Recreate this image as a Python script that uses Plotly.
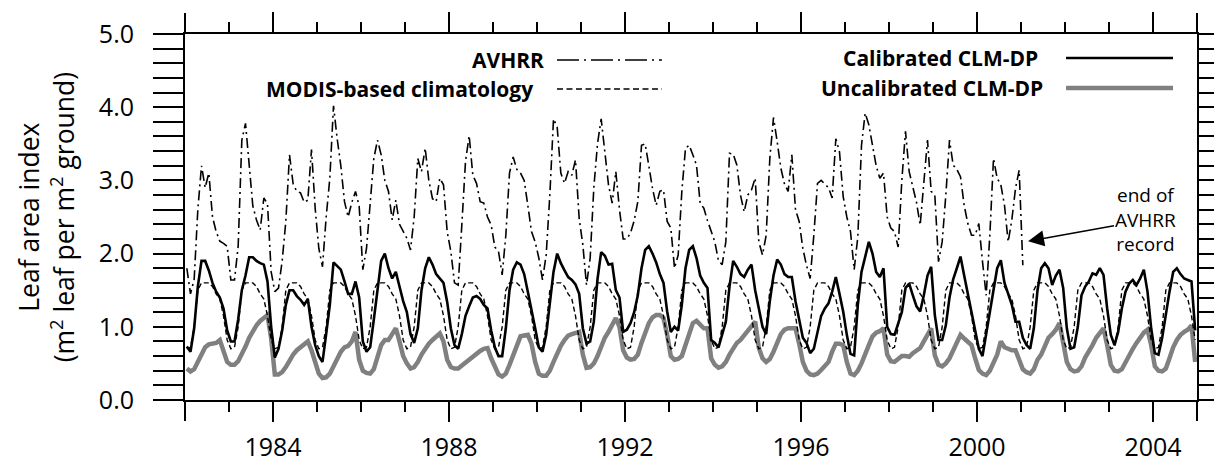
import plotly.graph_objects as go

# ---------------- data (monthly, Jan 1982 onward) ----------------
start_year = 1982
n_years = 23

avhrr = [
    1.80, 1.45, 1.65, 2.60, 3.20, 2.90, 3.10, 2.50, 2.30, 2.17, 2.14, 2.10,
    1.64, 1.64, 2.10, 3.55, 3.78, 3.20, 2.65, 2.46, 2.32, 2.76, 2.68, 1.75,
    1.48, 1.53, 1.90, 2.44, 3.35, 2.95, 2.85, 2.83, 2.70, 2.73, 3.42, 2.62,
    2.07, 1.82, 2.50, 3.03, 4.02, 3.57, 3.20, 2.71, 2.50, 2.70, 2.85, 2.65,
    1.78, 2.07, 2.71, 3.30, 3.55, 3.35, 3.00, 2.85, 2.46, 2.73, 2.40, 2.30,
    2.21, 2.05, 2.50, 3.30, 3.12, 3.44, 3.00, 2.75, 2.71, 3.03, 2.94, 2.30,
    2.03, 1.60, 1.57, 2.39, 3.26, 3.61, 3.07, 2.96, 2.71, 2.69, 2.50, 2.39,
    2.09, 2.03, 1.71, 2.25, 3.10, 3.32, 3.15, 3.10, 3.00, 2.66, 2.30, 2.16,
    1.94, 1.64, 1.98, 2.80, 3.84, 3.73, 3.10, 2.96, 3.12, 3.07, 3.28, 2.48,
    2.12, 1.57, 1.94, 2.90, 3.50, 3.84, 3.35, 2.94, 2.69, 3.12, 2.60, 2.20,
    2.20, 2.28, 2.45, 2.71, 3.48, 3.50, 3.20, 2.89, 2.66, 2.85, 2.87, 2.44,
    2.35, 1.80, 1.98, 2.85, 3.44, 3.48, 3.35, 3.21, 2.69, 2.62, 2.45, 2.30,
    2.16, 1.90, 1.85, 2.16, 3.37, 3.36, 3.21, 2.80, 2.57, 2.80, 2.87, 3.03,
    2.16, 1.98, 2.25, 3.30, 3.86, 3.53, 3.17, 2.95, 2.85, 3.35, 2.60, 2.44,
    2.07, 1.84, 1.66, 2.25, 2.96, 3.00, 2.95, 2.90, 2.76, 3.57, 3.39, 2.78,
    2.50, 2.30, 1.78, 2.23, 3.48, 3.92, 3.76, 3.45, 3.20, 3.03, 3.10, 2.50,
    2.35, 2.30, 2.09, 3.00, 3.67, 3.12, 2.90, 2.70, 2.39, 3.00, 3.55, 2.85,
    2.80, 1.89, 2.16, 2.80, 3.55, 3.21, 3.15, 3.05, 2.66, 2.41, 2.25, 2.25,
    2.41, 1.89, 1.43, 2.25, 3.30, 3.03, 2.94, 2.66, 2.16, 2.46, 2.89, 3.14,
    1.84,
]

modis_monthly_climatology = [0.70, 0.72, 1.00, 1.50, 1.60, 1.60,
                             1.60, 1.55, 1.45, 1.38, 1.15, 0.82]

calibrated = [
    0.73, 0.66, 0.98, 1.55, 1.90, 1.90, 1.77, 1.60, 1.48, 1.40, 1.25, 0.95,
    0.80, 0.80, 1.10, 1.50, 1.70, 1.95, 1.95, 1.90, 1.87, 1.85, 1.62, 1.00,
    0.58, 0.70, 0.95, 1.30, 1.50, 1.50, 1.42, 1.37, 1.30, 1.38, 1.00, 0.75,
    0.60, 0.52, 0.90, 1.30, 1.88, 1.83, 1.78, 1.62, 1.45, 1.45, 1.62, 1.40,
    0.80, 0.66, 0.72, 1.10, 1.50, 1.90, 2.00, 1.80, 1.66, 1.75, 1.55, 1.35,
    1.20, 0.90, 0.78, 0.98, 1.50, 1.80, 1.95, 1.85, 1.72, 1.66, 1.60, 1.34,
    0.98, 0.75, 0.70, 0.90, 1.15, 1.28, 1.40, 1.42, 1.38, 1.30, 1.25, 0.95,
    0.72, 0.60, 0.60, 0.98, 1.50, 1.78, 1.88, 1.85, 1.72, 1.48, 1.25, 0.98,
    0.72, 0.66, 0.89, 1.35, 1.75, 2.00, 1.87, 1.77, 1.68, 1.64, 1.58, 1.45,
    0.98, 0.77, 0.80, 1.07, 1.65, 2.02, 1.97, 1.85, 1.86, 1.50, 1.40, 0.93,
    0.96, 1.05, 1.20, 1.43, 1.80, 2.05, 2.10, 2.00, 1.88, 1.72, 1.60, 1.21,
    0.93, 1.00, 0.95, 1.30, 1.80, 2.05, 2.10, 1.94, 1.70, 1.60, 1.53, 0.82,
    0.78, 0.72, 0.90, 1.07, 1.55, 1.90, 1.82, 1.72, 1.68, 1.78, 1.85, 1.50,
    1.25, 1.00, 0.90, 1.35, 1.70, 1.92, 1.85, 1.72, 1.68, 1.68, 1.35, 1.10,
    0.85, 0.78, 0.64, 0.70, 0.95, 1.15, 1.25, 1.32, 1.48, 1.68, 1.45, 1.21,
    0.89, 0.63, 0.61, 1.30, 1.75, 1.94, 2.16, 2.00, 1.75, 1.68, 1.80, 1.00,
    0.90, 0.89, 1.05, 1.20, 1.53, 1.59, 1.43, 1.28, 1.21, 1.43, 1.70, 1.82,
    1.16, 0.82, 0.82, 1.02, 1.40, 1.65, 1.80, 1.96, 1.70, 1.45, 1.20, 0.98,
    0.70, 0.60, 0.90, 1.20, 1.53, 1.80, 1.91, 1.60, 1.45, 1.30, 1.07, 1.07,
    0.85, 0.75, 0.70, 0.98, 1.50, 1.80, 1.87, 1.80, 1.57, 1.70, 1.78, 1.53,
    0.98, 0.70, 0.72, 1.00, 1.43, 1.55, 1.62, 1.73, 1.71, 1.80, 1.71, 1.25,
    0.89, 0.75, 0.93, 1.25, 1.48, 1.59, 1.64, 1.57, 1.66, 1.78, 1.48, 0.98,
    0.64, 0.62, 0.85, 1.20, 1.48, 1.75, 1.80, 1.72, 1.66, 1.64, 1.62, 0.95,
]

uncalibrated = [
    0.43, 0.39, 0.42, 0.52, 0.65, 0.72, 0.76, 0.77, 0.78, 0.82, 0.66, 0.52,
    0.48, 0.48, 0.53, 0.62, 0.73, 0.85, 0.95, 1.02, 1.08, 1.12, 1.16, 0.84,
    0.35, 0.35, 0.38, 0.45, 0.55, 0.62, 0.68, 0.72, 0.76, 0.80, 0.68, 0.50,
    0.36, 0.30, 0.31, 0.36, 0.46, 0.56, 0.66, 0.72, 0.74, 0.80, 0.93, 0.55,
    0.40, 0.37, 0.36, 0.42, 0.60, 0.75, 0.82, 0.82, 0.90, 0.98, 0.80, 0.60,
    0.50, 0.43, 0.45, 0.52, 0.62, 0.71, 0.77, 0.82, 0.87, 0.91, 0.80, 0.55,
    0.45, 0.43, 0.43, 0.47, 0.52, 0.56, 0.60, 0.64, 0.67, 0.70, 0.71, 0.57,
    0.45, 0.35, 0.32, 0.36, 0.48, 0.60, 0.75, 0.87, 0.88, 0.89, 0.77, 0.52,
    0.36, 0.33, 0.33, 0.40, 0.52, 0.65, 0.74, 0.82, 0.88, 0.90, 0.91, 0.93,
    0.62, 0.44, 0.45, 0.50, 0.60, 0.72, 0.85, 0.93, 1.02, 1.12, 1.00, 0.68,
    0.58, 0.55, 0.56, 0.62, 0.78, 0.92, 1.05, 1.13, 1.16, 1.16, 1.12, 0.89,
    0.60, 0.55, 0.56, 0.60, 0.75, 0.92, 1.05, 1.08, 1.03, 0.98, 0.98, 0.57,
    0.48, 0.44, 0.46, 0.52, 0.62, 0.71, 0.78, 0.82, 0.88, 0.95, 1.02, 1.07,
    0.71, 0.57, 0.52, 0.56, 0.66, 0.80, 0.90, 0.96, 0.98, 0.98, 0.98, 0.77,
    0.52, 0.40, 0.35, 0.34, 0.36, 0.41, 0.47, 0.52, 0.66, 0.77, 0.77, 0.75,
    0.52, 0.36, 0.34, 0.40, 0.50, 0.61, 0.75, 0.87, 0.92, 0.94, 0.98, 0.62,
    0.53, 0.52, 0.56, 0.60, 0.60, 0.59, 0.64, 0.68, 0.71, 0.80, 0.90, 0.98,
    0.61, 0.48, 0.46, 0.50, 0.57, 0.68, 0.80, 0.89, 0.84, 0.80, 0.75, 0.57,
    0.41, 0.36, 0.34, 0.40, 0.52, 0.62, 0.80, 0.72, 0.70, 0.68, 0.68, 0.55,
    0.42, 0.38, 0.36, 0.42, 0.55, 0.62, 0.75, 0.85, 0.90, 0.96, 1.05, 0.80,
    0.52, 0.42, 0.39, 0.40, 0.46, 0.58, 0.66, 0.75, 0.85, 0.92, 0.98, 0.75,
    0.48, 0.40, 0.39, 0.42, 0.52, 0.63, 0.70, 0.78, 0.86, 0.92, 0.96, 0.75,
    0.46, 0.40, 0.39, 0.43, 0.57, 0.72, 0.82, 0.89, 0.93, 0.96, 1.02, 0.52,
]

x_tick_years = [1984, 1988, 1992, 1996, 2000, 2004]
y_tick_values = [0, 1, 2, 3, 4, 5]
y_tick_labels = ["0.0", "1.0", "2.0", "3.0", "4.0", "5.0"]

# ---------------- figure ----------------
time = [start_year + (i + 0.5) / 12 for i in range(len(calibrated))]
modis = modis_monthly_climatology * n_years  # climatology repeats every year
x_end = start_year + n_years

FONT = "Open Sans"
AVHRR_DASH = "10px,4px,2px,4px"
MODIS_DASH = "5px,3px"

fig = go.Figure()
fig.add_trace(go.Scatter(x=time, y=uncalibrated, mode="lines", name="Uncalibrated CLM-DP",
                         line=dict(color="#808080", width=4.5)))
fig.add_trace(go.Scatter(x=time, y=modis, mode="lines", name="MODIS-based climatology",
                         line=dict(color="black", width=1.4, dash=MODIS_DASH)))
fig.add_trace(go.Scatter(x=time[:len(avhrr)], y=avhrr, mode="lines", name="AVHRR",
                         line=dict(color="black", width=1.6, dash=AVHRR_DASH)))
fig.add_trace(go.Scatter(x=time, y=calibrated, mode="lines", name="Calibrated CLM-DP",
                         line=dict(color="black", width=2.6)))
# empty trace that only anchors the helper axis carrying the end ticks
fig.add_trace(go.Scatter(x=[], y=[], xaxis="x2", yaxis="y", hoverinfo="skip", showlegend=False))

fig.update_layout(
    width=1214, height=462,
    margin=dict(l=185, r=17, t=34, b=62),
    paper_bgcolor="white", plot_bgcolor="white",
    showlegend=False,
    font=dict(family=FONT, color="black", size=25),
    xaxis=dict(
        range=[start_year, x_end], automargin=False,
        tickmode="array", tickvals=x_tick_years,
        ticktext=[str(y) for y in x_tick_years],
        ticks="outside", ticklen=20, tickwidth=2, tickcolor="black",
        showline=True, linecolor="black", linewidth=2, mirror="allticks",
        showgrid=False, zeroline=False, ticklabelstandoff=4,
        minor=dict(tickmode="array", tickvals=list(range(start_year + 1, x_end)),
                   ticks="outside", ticklen=10, tickwidth=2, tickcolor="black",
                   showgrid=False),
    ),
    # unlabelled long ticks at both ends of the time axis
    xaxis2=dict(
        overlaying="x", anchor="y", side="bottom", matches="x",
        range=[start_year, x_end], automargin=False,
        tickmode="array", tickvals=[start_year, x_end], showticklabels=False,
        ticks="outside", ticklen=20, tickwidth=2, tickcolor="black",
        showline=False, mirror="allticks", showgrid=False, zeroline=False,
    ),
    yaxis=dict(
        range=[0, 5], automargin=False,
        tickmode="array", tickvals=y_tick_values, ticktext=y_tick_labels,
        ticks="outside", ticklen=30, tickwidth=2, tickcolor="black",
        showline=True, linecolor="black", linewidth=2, mirror="allticks",
        showgrid=False, zeroline=False, ticklabelstandoff=14,
        minor=dict(dtick=0.2, tick0=0, ticks="outside", ticklen=14, tickwidth=2,
                   tickcolor="black", showgrid=False),
    ),
)

# y-axis title
fig.add_annotation(text="Leaf area index<br>(m<sup>2</sup> leaf per m<sup>2</sup> ground)",
                   xref="paper", yref="paper", x=-0.137, y=0.5, textangle=-90,
                   showarrow=False, xanchor="center", yanchor="middle",
                   font=dict(family=FONT, size=26.5, color="black"))

# legend (text left of line sample)
legend_items = [
    ("AVHRR", 0.3567, 0.929, 0.3676, 0.4713, dict(color="black", width=1.6, dash="22px,5px,2px,5px")),
    ("MODIS-based climatology", 0.3458, 0.8497, 0.3676, 0.4713, dict(color="black", width=1.4, dash="6px,3.5px")),
    ("Calibrated CLM-DP", 0.8449, 0.9344, 0.8706, 0.9763, dict(color="black", width=2.6)),
    ("Uncalibrated CLM-DP", 0.8498, 0.8525, 0.8706, 0.9763, dict(color="#808080", width=4.5)),
]
for label, tx, ty, lx0, lx1, lstyle in legend_items:
    fig.add_annotation(text=f"<b>{label}</b>", xref="paper", yref="paper", x=tx, y=ty,
                       xanchor="right", yanchor="middle", showarrow=False,
                       font=dict(family=FONT, size=21, color="black"))
    fig.add_shape(type="line", xref="paper", yref="paper", x0=lx0, x1=lx1, y0=ty, y1=ty,
                  line=lstyle)

# end of AVHRR record note with arrow
fig.add_annotation(text="end of<br>AVHRR<br>record",
                   x=2001.16, y=2.17, ax=2003.84, ay=2.46, axref="x", ayref="y",
                   showarrow=True, arrowhead=2, arrowsize=2, arrowwidth=1.6,
                   arrowcolor="black", align="center",
                   font=dict(family=FONT, size=19, color="black"))

fig.write_html("out.html")
